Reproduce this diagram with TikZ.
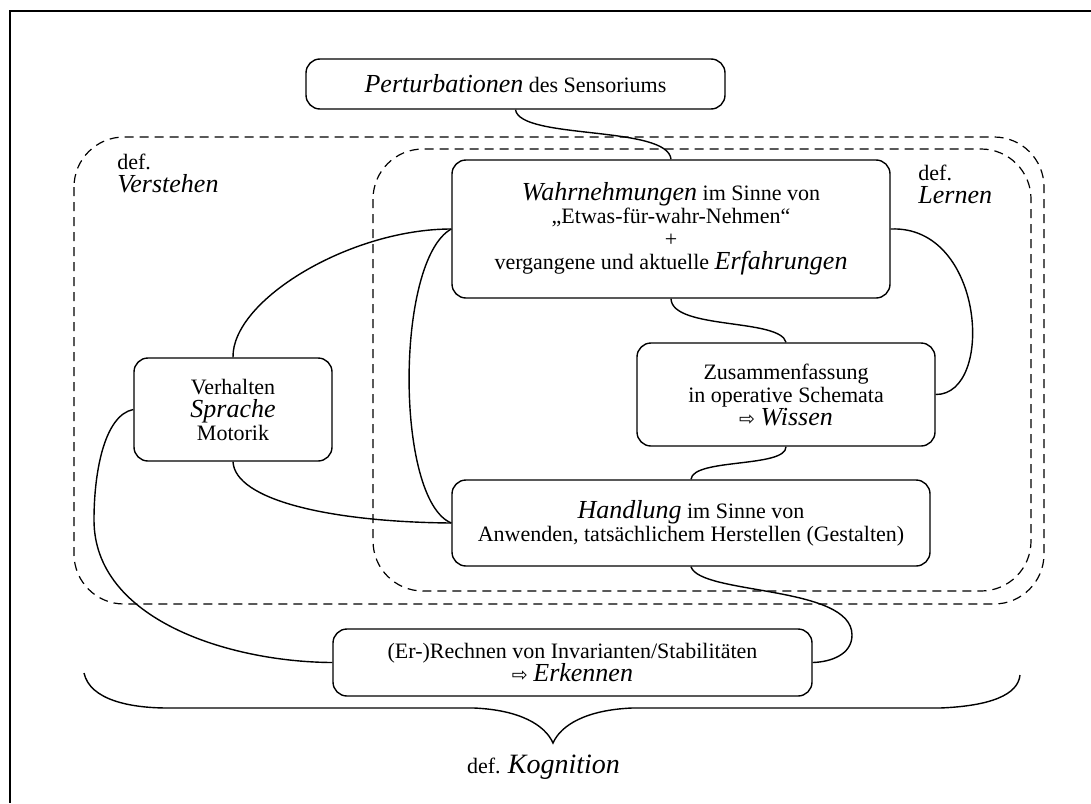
\documentclass[tikz,border=0pt]{standalone}
\usepackage{fontspec}
\setmainfont{Liberation Serif}
\newfontfamily\pfeilfont{DejaVu Sans}
\newcommand{\emwort}[1]{{\fontsize{13}{13}\selectfont\itshape #1}}
\newcommand{\pfeil}{{\pfeilfont\fontsize{9.5}{10}\selectfont ⇨}}
\tikzset{
	kasten/.style={draw, line width=0.7pt, rounded corners=7pt, align=center, inner sep=0pt, font=\fontsize{11}{11.5}\selectfont},
	bereich/.style={draw, line width=0.6pt, dash pattern=on 4.5pt off 3pt, rounded corners=25pt},
	verbindung/.style={line width=0.7pt},
	definition/.style={align=left, inner sep=0pt, anchor=west, font=\fontsize{11}{11.5}\selectfont}
}

\begin{document}
\begin{tikzpicture}[x=0.5pt, y=-0.5pt]
	\useasboundingbox (0, 0) rectangle (1091, 803);
	% Frame and dashed areas:
	\draw[line width=0.9pt] (1091, 11) -| (10, 803);
	\draw[bereich] (74, 137) rectangle (1044, 604);
	\draw[bereich] (373, 149) rectangle (1031, 591);
	% Boxes:
	\node[kasten, minimum width=209.5pt, minimum height=25pt] (pert) at (515.5, 84) {\emwort{Perturbationen} des Sensoriums};
	\node[kasten, minimum width=219pt, minimum height=69pt] (wahr) at (671, 229) {\emwort{Wahrnehmungen} im Sinne von\\„Etwas-für-wahr-Nehmen“\\+\\vergangene und aktuelle \emwort{Erfahrungen}};
	\node[kasten, minimum width=99pt, minimum height=51.5pt] (verh) at (233, 409.5) {Verhalten\\\emwort{Sprache}\\Motorik};
	\node[kasten, minimum width=149pt, minimum height=51.5pt] (zus) at (786, 394.5) {Zusammenfassung\\in operative Schemata\\\pfeil{} \emwort{Wissen}};
	\node[kasten, minimum width=239pt, minimum height=43pt] (hand) at (691, 523) {\emwort{Handlung} im Sinne von\\Anwenden, tatsächlichem Herstellen (Gestalten)};
	\node[kasten, minimum width=239.5pt, minimum height=33.5pt] (erk) at (572.5, 662.5) {(Er-)Rechnen von Invarianten/Stabilitäten\\\pfeil{} \emwort{Erkennen}};
	% Definitions:
	\node[definition] (verst) at (117, 173.5) {def.\\\emwort{Verstehen}};
	\node[definition] (lern) at (918, 184.5) {def.\\\emwort{Lernen}};
	\node[font=\fontsize{11}{12}\selectfont] (kog) at (543.5, 767) {def. {\fontsize{14}{14}\selectfont\itshape Kognition}};
	% Connections:
	\draw[verbindung] (pert.south) .. controls (520, 140) and (668, 125) .. (wahr.north);
	\draw[verbindung] (wahr.west) .. controls (350, 229) and (232, 300) .. (verh.north);
	\draw[verbindung] (wahr.west) .. controls (395, 260) and (395, 500) .. (hand.west);
	\draw[verbindung] (verh.south) .. controls (235, 500) and (330, 522) .. (hand.west);
	\draw[verbindung] (wahr.south) .. controls (672, 330) and (780, 318) .. (zus.north);
	\draw[verbindung] (wahr.east) .. controls (985, 225) and (995, 395) .. (zus.east);
	\draw[verbindung] (zus.south) .. controls (786, 468) and (693, 458) .. (hand.north);
	\draw[verbindung] (hand.south) .. controls (700, 595) and (852, 585) .. (852, 635) .. controls (852, 655) and (830, 662) .. (erk.east);
	\draw[verbindung] (verh.west) .. controls (105, 415) and (94, 470) .. (94, 520) .. controls (94, 620) and (230, 662) .. (erk.west);
	% Brace:
	\draw[verbindung] (84, 673) .. controls (90, 700) and (130, 708) .. (168, 708) -- (474, 708) .. controls (520, 710) and (545, 725) .. (553, 743) .. controls (561, 725) and (586, 710) .. (632, 708) -- (940, 708) .. controls (990, 706) and (1018, 695) .. (1020, 675);
\end{tikzpicture}
\end{document}
